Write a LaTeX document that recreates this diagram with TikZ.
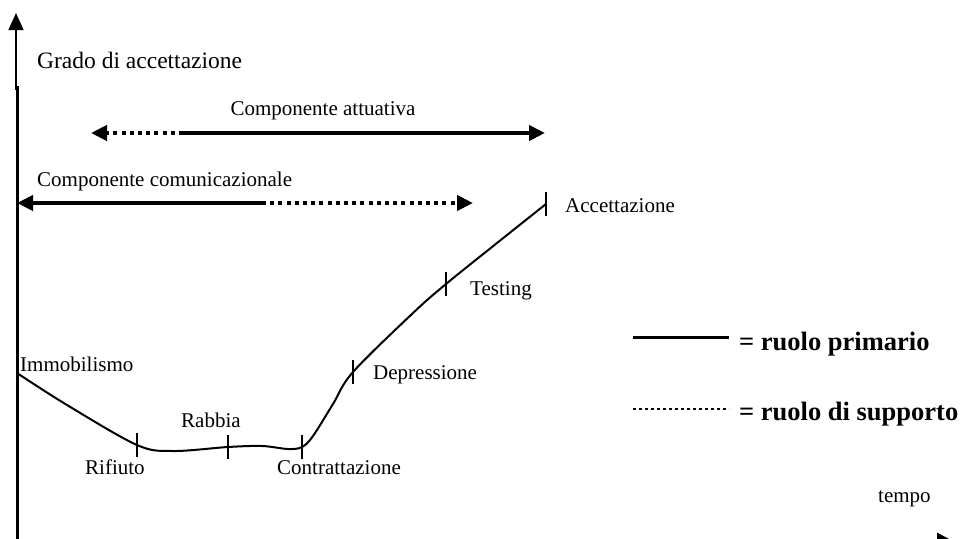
\documentclass[tikz,border=0pt]{standalone}
\usepackage{fontspec}
\setmainfont{Liberation Serif}
\usetikzlibrary{arrows.meta}
\begin{document}
\begin{tikzpicture}[x=1pt,y=-1pt,
  lbl/.style={inner sep=0pt, anchor=base west, font=\fontsize{21}{25}\selectfont},
  title/.style={inner sep=0pt, anchor=base west, font=\fontsize{23.5}{27}\selectfont},
  legendtxt/.style={inner sep=0pt, anchor=base west, font=\fontsize{26.5}{30}\selectfont\bfseries},
  bigtip/.style={-{Triangle[length=16pt,width=15pt]}},
  primary/.style={line width=4pt},
  support/.style={line width=4pt, dash pattern=on 4pt off 4.2pt},
  curve/.style={line width=2pt, line join=round},
  stagetick/.style={line width=1.5pt},
]
\useasboundingbox (0,0) rectangle (963,538);
\clip (0,0) rectangle (963,538);

% axes
\coordinate (yTop) at (16,13);
\coordinate (yJoin) at (16,90);
\coordinate (yMid) at (17,86);
\coordinate (yBot) at (17,545);
\coordinate (xL) at (17,541);
\coordinate (xR) at (953,541);
\draw[line width=1.3pt, -{Triangle[length=17pt,width=15pt]}] (yJoin) -- (yTop);
\draw[line width=3pt] (yMid) -- (yBot);
\draw[line width=3pt, -{Triangle[length=16pt,width=16pt]}] (xL) -- (xR);

\node[title] (ylab) at (37,68) {Grado di accettazione};
\node[lbl] (xlab) at (878,502) {tempo};

% component arrows
\node[lbl, anchor=base] (att) at (323,115) {Componente attuativa};
\coordinate (attL) at (91,133);
\coordinate (attM) at (183,133);
\coordinate (attR) at (545,133);
\draw[support, bigtip] (attM) -- (attL);
\draw[primary, bigtip] (attM) -- (attR);

\node[lbl] (com) at (37,186) {Componente comunicazionale};
\coordinate (comL) at (17,203);
\coordinate (comM) at (262,203);
\coordinate (comR) at (473,203);
\draw[primary, bigtip] (comM) -- (comL);
\draw[support, bigtip] (comM) -- (comR);

% acceptance curve
\coordinate (imm) at (17,373);
\coordinate (rif) at (137,445);
\coordinate (rab) at (228,447);
\coordinate (con) at (302,447);
\coordinate (dep) at (353,372);
\coordinate (tes) at (446,284);
\coordinate (acc) at (546,204);
\draw[curve] plot[smooth, tension=0.55] coordinates {(imm) (67,405) (rif) (173,451) (rab) (262,446) (288,449) (con) (313,436) (333,404) (dep) (413,313) (tes) (497,243) (acc)};
\foreach \s in {rif,rab,con,dep,tes,acc}
  \draw[stagetick] ([yshift=12pt]\s) -- ([yshift=-12pt]\s);

\node[lbl] (limm) at (20,371) {Immobilismo};
\node[lbl] (lrif) at (85,474) {Rifiuto};
\node[lbl] (lrab) at (181,427) {Rabbia};
\node[lbl] (lcon) at (277,474) {Contrattazione};
\node[lbl] (ldep) at (373,379) {Depressione};
\node[lbl] (ltes) at (470,295) {Testing};
\node[lbl] (lacc) at (565,212) {Accettazione};

% legend
\coordinate (legA) at (633,337);
\coordinate (legB) at (729,337);
\coordinate (legC) at (633,409);
\coordinate (legD) at (729,409);
\draw[line width=3pt] (legA) -- (legB);
\draw[line width=2.2pt, dash pattern=on 2.5pt off 3.5pt] (legC) -- (legD);
\node[legendtxt] (lprim) at (739,350) {= ruolo primario};
\node[legendtxt] (lsupp) at (739,420) {= ruolo di supporto};
\end{tikzpicture}
\end{document}
